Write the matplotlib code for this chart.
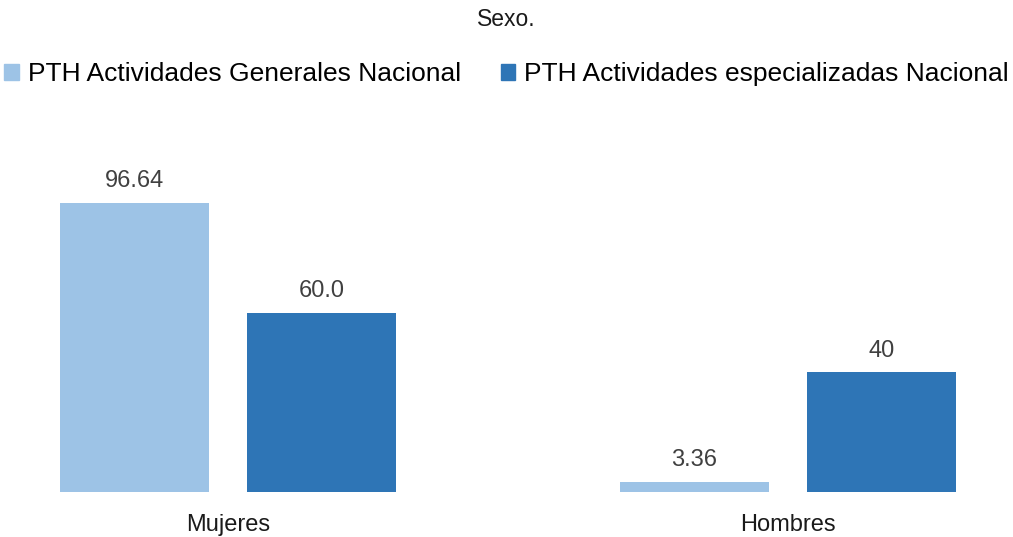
import numpy as np
import matplotlib
matplotlib.use('Agg')
import matplotlib.pyplot as plt
from matplotlib.patches import Patch

plt.rcParams['font.family'] = ['Liberation Sans', 'DejaVu Sans']

categories = ['Mujeres', 'Hombres']
series_names = ['PTH Actividades Generales Nacional', 'PTH Actividades especializadas Nacional']
generales = [96.64, 3.36]
especializadas = [60.0, 40]
value_labels_gen = ['96.64', '3.36']
value_labels_esp = ['60.0', '40']

colors = ['#9DC3E6', '#2E75B6']

fig = plt.figure(figsize=(10.13, 5.37), dpi=100)
ax = fig.add_axes([0, 45/537, 1, 342/537])

x = np.arange(len(categories))
w = 0.266
off = 0.167
b1 = ax.bar(x - off, generales, w, color=colors[0])
b2 = ax.bar(x + off, especializadas, w, color=colors[1])

# etiquetas de valor
for bars, labs in ((b1, value_labels_gen), (b2, value_labels_esp)):
    for b, lab in zip(bars, labs):
        ax.text(b.get_x() + b.get_width()/2, b.get_height() + 3.6, lab,
                ha='center', va='bottom', fontsize=17, color='#404040')

ax.set_xlim(-228/560, (1013-228)/560)
ax.set_ylim(0, 114.4)
ax.set_xticks(x)
ax.set_xticklabels(categories, fontsize=17, color='#1a1a1a')
ax.tick_params(axis='x', length=0, pad=16)
ax.set_yticks([])
for s in ax.spines.values():
    s.set_visible(False)

fig.text(0.5, 1 - 19/537, 'Sexo.', ha='center', va='center', fontsize=16.5, color='#1a1a1a')

handles = [Patch(color=c) for c in colors]
fig.legend(handles, series_names, loc='center', bbox_to_anchor=(0.5, 1 - 74/537),
           ncol=2, frameon=False, fontsize=19, handlelength=0.55, handleheight=0.55,
           handletextpad=0.35, columnspacing=1.5)

fig.savefig('out.png', dpi=100)
